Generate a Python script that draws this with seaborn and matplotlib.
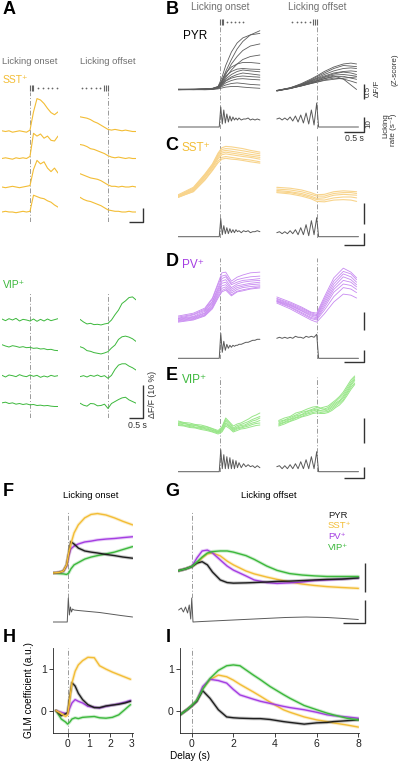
import numpy as np
import pandas as pd
import matplotlib
matplotlib.use("Agg")
import matplotlib.pyplot as plt
import seaborn as sns

sns.set_theme(style="white")
plt.rcParams['font.family'] = ['Liberation Sans', 'DejaVu Sans']

# ======================= DATA =======================
# ---- Panel A: example cells (time in s, dF/F in %) ----
TA = [-1.0, -0.875, -0.75, -0.625, -0.5, -0.375, -0.25, -0.125, 0.0,
      0.125, 0.25, 0.375, 0.5, 0.625, 0.75, 0.875, 1.0]
sst_a_on_1 = [1, 0, 1, -1, 0, 1, 0, -1, 2, 28, 47, 45, 40, 33, 27, 24, 28]
sst_a_on_2 = [0, 1, 0, -1, 1, 0, 1, 0, 3, 36, 32, 35, 29, 32, 26, 25, 32]
sst_a_on_3 = [0, -1, 0, 1, 0, -1, 0, 1, 2, 25, 38, 33, 36, 27, 22, 27, 20]
sst_a_on_4 = [0, 1, 0, 0, -1, 0, 1, 0, 1, 24, 22, 20, 19, 16, 14, 10, 7]
sst_a_off_1 = [21, 20, 19, 17, 14, 12, 9, 6, 3, 2, 3, 2, 1, 2, 1, 0, 0]
sst_a_off_2 = [20, 19, 17, 14, 13, 11, 9, 7, 4, 2, 1, 2, 1, 0, 1, 0, 0]
sst_a_off_3 = [19, 17, 15, 13, 12, 11, 9, 6, 3, 1, 1, 0, 1, 0, 0, 1, 0]
sst_a_off_4 = [21, 18, 16, 15, 13, 11, 9, 6, 3, 2, 1, 1, 0, 0, 1, 0, 0]
vip_a_on_1 = [0.3, -0.2, 0.4, 0.0, 0.5, -0.3, 0.2, 0.0, -0.3, 0.3, -0.4, 0.2, -0.3, 0.3, -0.2, 0.1, 0.4]
vip_a_on_2 = [1.0, 0.6, 0.3, 0.7, 0.5, 0.2, 0.4, 0.1, 0.2, -0.1, 0.0, -0.3, -0.2, -0.5, -0.4, -0.7, -0.8]
vip_a_on_3 = [0.2, -0.3, 0.3, 0.1, -0.2, 0.4, 0.0, -0.2, 0.3, -0.1, 0.2, -0.4, 0.0, -0.3, 0.2, -0.1, 0.1]
vip_a_on_4 = [0.5, 0.7, 0.3, 0.5, 0.1, 0.3, 0.0, 0.2, -0.1, 0.0, -0.3, -0.2, -0.4, -0.3, -0.5, -0.6, -0.6]
vip_a_off_1 = [0.2, -0.6, -1.2, -1.0, -1.4, -1.3, -1.5, -1.2, -1.0, 0.0, 1.6, 3.0, 5.0, 5.8, 6.8, 7.0, 6.1]
vip_a_off_2 = [0.4, 0.0, -0.8, -1.0, -1.4, -1.6, -1.8, -1.5, -1.1, 0.0, 0.9, 2.6, 3.4, 3.6, 3.3, 2.8, 2.0]
vip_a_off_3 = [-0.2, 0.1, -0.3, 0.2, -0.1, 0.3, -0.2, 0.1, -0.7, 0.2, 2.0, 3.3, 3.7, 3.7, 3.0, 2.5, 1.8]
vip_a_off_4 = [0.4, -0.2, -0.5, 0.3, 0.2, -0.4, -0.3, 0.1, -1.2, 0.3, 0.9, 1.5, 2.0, 2.2, 1.4, 0.9, 0.4]

# lick event times (s)
lick_a_on_bars = [0.0, 0.06, 0.12]
lick_a_on_dots = [0.3, 0.46, 0.63, 0.8, 0.96]
lick_a_off_dots = [-0.93, -0.77, -0.6, -0.44, -0.29]
lick_a_off_bars = [-0.14, -0.07, 0.0]
lick_b_on_bars = [0.0, 0.04, 0.08]
lick_b_on_dots = [0.18, 0.29, 0.39, 0.5, 0.6]
lick_b_off_dots = [-0.65, -0.53, -0.41, -0.3, -0.18]
lick_b_off_bars = [-0.1, -0.05, 0.0]

# ---- Panels B-E: per-cell traces (z-scored dF/F) ----
T_ON = [-1.1, -0.7, -0.4, -0.2, -0.05, 0.05, 0.15, 0.3, 0.45, 0.6, 0.8, 1.05]
T_OFF = [-1.05, -0.7, -0.4, -0.15, 0.0, 0.2, 0.45, 0.7, 0.9, 1.05]

pyr_on = [
    [0, 0, 0.01, 0.02, 0.08, 0.3, 0.6, 1.0, 1.35, 1.6, 1.82, 1.96],
    [0, 0.01, 0.02, 0.03, 0.1, 0.4, 0.8, 1.25, 1.55, 1.72, 1.82, 1.87],
    [0.01, 0, 0.01, 0.03, 0.08, 0.25, 0.5, 0.85, 1.1, 1.3, 1.45, 1.52],
    [0, 0, 0.01, 0.02, 0.06, 0.2, 0.4, 0.65, 0.85, 1.0, 1.1, 1.15],
    [0, 0.01, 0.02, 0.04, 0.1, 0.3, 0.55, 0.75, 0.85, 0.9, 0.9, 0.87],
    [0.01, 0.01, 0.01, 0.03, 0.08, 0.25, 0.45, 0.6, 0.68, 0.7, 0.68, 0.67],
    [0, 0, 0.02, 0.03, 0.07, 0.2, 0.35, 0.5, 0.6, 0.65, 0.62, 0.59],
    [-0.01, 0, 0.01, 0.02, 0.06, 0.18, 0.3, 0.42, 0.5, 0.55, 0.52, 0.48],
    [0, 0, 0, 0.02, 0.05, 0.15, 0.28, 0.38, 0.43, 0.45, 0.43, 0.41],
    [0, -0.01, 0, 0.01, 0.05, 0.13, 0.22, 0.3, 0.35, 0.36, 0.34, 0.32],
    [-0.01, 0, 0, 0.01, 0.04, 0.1, 0.15, 0.2, 0.22, 0.2, 0.17, 0.15],
    [0, 0, -0.01, 0, 0.02, 0.05, 0.08, 0.1, 0.1, 0.08, 0.06, 0.04],
]
pyr_off = [
    [-0.04, 0.05, 0.2, 0.35, 0.45, 0.6, 0.75, 0.85, 0.88, 0.85],
    [-0.03, 0.06, 0.18, 0.32, 0.42, 0.55, 0.7, 0.8, 0.78, 0.76],
    [-0.04, 0.05, 0.17, 0.3, 0.38, 0.5, 0.62, 0.7, 0.72, 0.7],
    [-0.05, 0.04, 0.15, 0.28, 0.36, 0.45, 0.55, 0.6, 0.62, 0.6],
    [-0.04, 0.05, 0.15, 0.26, 0.33, 0.42, 0.52, 0.58, 0.55, 0.5],
    [-0.03, 0.04, 0.14, 0.25, 0.3, 0.4, 0.48, 0.5, 0.47, 0.44],
    [-0.04, 0.03, 0.13, 0.22, 0.28, 0.36, 0.42, 0.44, 0.38, 0.34],
    [-0.05, 0.03, 0.12, 0.2, 0.25, 0.32, 0.38, 0.35, 0.28, 0.22],
    [-0.04, 0.04, 0.12, 0.2, 0.24, 0.3, 0.34, 0.38, 0.4, 0.42],
    [-0.04, 0.04, 0.13, 0.22, 0.28, 0.36, 0.45, 0.35, 0.15, 0.0],
]
sst_on = [
    [0.05, 0.22, 0.52, 0.75, 1.0, 1.12, 1.15, 1.14, 1.12, 1.1, 1.06, 1.02],
    [0.03, 0.2, 0.5, 0.73, 0.97, 1.08, 1.1, 1.09, 1.07, 1.05, 1.02, 0.98],
    [0.02, 0.18, 0.48, 0.7, 0.94, 1.04, 1.06, 1.04, 1.02, 1.0, 0.97, 0.94],
    [0.0, 0.16, 0.45, 0.68, 0.9, 1.0, 1.02, 1.0, 0.98, 0.96, 0.93, 0.9],
    [0.01, 0.15, 0.44, 0.66, 0.87, 0.96, 0.98, 0.96, 0.94, 0.92, 0.9, 0.86],
    [-0.01, 0.13, 0.4, 0.62, 0.82, 0.9, 0.92, 0.9, 0.88, 0.86, 0.84, 0.8],
    [0.0, 0.12, 0.38, 0.6, 0.78, 0.86, 0.88, 0.86, 0.85, 0.83, 0.8, 0.77],
]
sst_off = [
    [0.22, 0.2, 0.16, 0.1, 0.05, 0.06, 0.12, 0.14, 0.13, 0.12],
    [0.18, 0.16, 0.12, 0.06, 0.02, 0.02, 0.08, 0.1, 0.1, 0.08],
    [0.15, 0.12, 0.08, 0.02, -0.03, -0.02, 0.04, 0.06, 0.05, 0.04],
    [0.12, 0.1, 0.05, -0.01, -0.06, -0.07, -0.02, 0.0, 0.0, -0.02],
    [0.1, 0.07, 0.02, -0.04, -0.1, -0.11, -0.07, -0.06, -0.07, -0.1],
]
pv_on = [
    [0.11, 0.19, 0.33, 0.61, 1.03, 1.31, 1.33, 1.08, 1.19, 1.25, 1.31, 1.33],
    [0.08, 0.16, 0.3, 0.58, 0.98, 1.22, 1.25, 1.02, 1.12, 1.16, 1.2, 1.22],
    [0.05, 0.14, 0.27, 0.52, 0.9, 1.15, 1.2, 0.98, 1.05, 1.1, 1.12, 1.15],
    [0.04, 0.1, 0.24, 0.5, 0.85, 1.08, 1.12, 0.9, 1.0, 1.05, 1.08, 1.1],
    [0.02, 0.08, 0.2, 0.45, 0.8, 1.02, 1.05, 0.85, 0.95, 0.98, 1.02, 1.05],
    [0.0, 0.06, 0.18, 0.42, 0.75, 0.95, 0.98, 0.8, 0.9, 0.94, 0.98, 1.0],
    [-0.02, 0.04, 0.15, 0.38, 0.7, 0.88, 0.92, 0.75, 0.85, 0.9, 0.93, 0.95],
    [-0.04, 0.02, 0.13, 0.34, 0.65, 0.82, 0.87, 0.7, 0.8, 0.84, 0.88, 0.92],
    [-0.06, 0.0, 0.11, 0.31, 0.61, 0.78, 0.83, 0.67, 0.78, 0.81, 0.86, 0.89],
]
pv_off = [
    [0.64, 0.5, 0.36, 0.22, 0.19, 0.64, 1.17, 1.44, 1.33, 1.17],
    [0.6, 0.47, 0.33, 0.2, 0.15, 0.58, 1.08, 1.35, 1.28, 1.12],
    [0.58, 0.44, 0.3, 0.17, 0.12, 0.52, 1.0, 1.28, 1.2, 1.05],
    [0.55, 0.42, 0.27, 0.14, 0.1, 0.46, 0.92, 1.2, 1.12, 0.98],
    [0.53, 0.4, 0.25, 0.11, 0.06, 0.4, 0.85, 1.1, 1.05, 0.92],
    [0.52, 0.37, 0.21, 0.07, 0.03, 0.34, 0.77, 1.0, 0.96, 0.85],
    [0.5, 0.35, 0.18, 0.04, 0.0, 0.27, 0.65, 0.9, 0.86, 0.76],
    [0.47, 0.31, 0.14, 0.0, -0.06, 0.17, 0.5, 0.72, 0.69, 0.61],
]
T_E_ON = [-1.1, -0.95, -0.8, -0.65, -0.5, -0.35, -0.2, -0.05, 0.05, 0.15,
          0.25, 0.35, 0.45, 0.55, 0.65, 0.75, 0.85, 0.95, 1.05]
T_E_OFF = [-1.0, -0.85, -0.7, -0.55, -0.4, -0.25, -0.1, 0.0, 0.1, 0.2,
           0.3, 0.4, 0.5, 0.6, 0.7, 0.8, 0.9, 1.0]
vip_on = [
    [0.24, 0.21, 0.2, 0.17, 0.16, 0.13, 0.09, 0.05, 0.12, 0.3, 0.22, 0.14, 0.18, 0.2, 0.24, 0.28, 0.33, 0.36, 0.4],
    [0.22, 0.2, 0.17, 0.16, 0.13, 0.12, 0.08, 0.03, 0.1, 0.27, 0.2, 0.1, 0.15, 0.17, 0.2, 0.23, 0.27, 0.3, 0.33],
    [0.2, 0.19, 0.16, 0.15, 0.12, 0.1, 0.06, 0.02, 0.08, 0.24, 0.16, 0.08, 0.12, 0.15, 0.16, 0.2, 0.24, 0.26, 0.3],
    [0.19, 0.16, 0.15, 0.12, 0.11, 0.08, 0.05, 0.01, 0.06, 0.2, 0.14, 0.06, 0.1, 0.12, 0.14, 0.17, 0.2, 0.22, 0.25],
    [0.17, 0.15, 0.13, 0.11, 0.09, 0.07, 0.03, 0.0, 0.04, 0.17, 0.12, 0.04, 0.08, 0.1, 0.12, 0.14, 0.17, 0.19, 0.2],
    [0.15, 0.14, 0.11, 0.1, 0.07, 0.05, 0.02, -0.02, 0.02, 0.14, 0.09, 0.02, 0.05, 0.08, 0.09, 0.11, 0.13, 0.15, 0.16],
]
vip_off = [
    [0.25, 0.3, 0.33, 0.4, 0.43, 0.48, 0.52, 0.53, 0.5, 0.52, 0.54, 0.6, 0.66, 0.73, 0.82, 0.94, 1.06, 1.14],
    [0.23, 0.26, 0.31, 0.36, 0.41, 0.44, 0.48, 0.51, 0.49, 0.48, 0.51, 0.57, 0.63, 0.7, 0.78, 0.9, 1.02, 1.11],
    [0.2, 0.25, 0.28, 0.34, 0.37, 0.43, 0.46, 0.48, 0.45, 0.47, 0.48, 0.54, 0.6, 0.65, 0.74, 0.86, 0.98, 1.08],
    [0.18, 0.22, 0.27, 0.31, 0.36, 0.4, 0.44, 0.46, 0.44, 0.44, 0.46, 0.51, 0.57, 0.63, 0.71, 0.82, 0.95, 1.05],
    [0.16, 0.21, 0.24, 0.3, 0.33, 0.38, 0.41, 0.43, 0.41, 0.42, 0.43, 0.48, 0.54, 0.6, 0.67, 0.79, 0.91, 1.0],
    [0.14, 0.18, 0.23, 0.27, 0.32, 0.35, 0.39, 0.4, 0.39, 0.39, 0.41, 0.45, 0.51, 0.56, 0.64, 0.75, 0.87, 0.97],
]

# licking rate traces (arbitrary z-score units)
LT_ON = [-1.1, -0.02, 0.02, 0.06, 0.1, 0.14, 0.18, 0.22, 0.26, 0.3, 0.34, 0.38,
         0.42, 0.46, 0.5, 0.56, 0.62, 0.68, 0.74, 0.8, 0.86, 0.92, 0.98, 1.05]
LT_OFF = [-1.05, -0.98, -0.91, -0.84, -0.77, -0.7, -0.63, -0.56, -0.49, -0.42,
          -0.35, -0.28, -0.21, -0.14, -0.07, 0.0, 0.05, 1.1]
lick_pyr_on = [0, 0, 20, 3, 17, 4, 13, 5, 11, 6, 10, 7, 9, 7, 9, 7, 8, 8, 9, 7, 8, 7, 8, 7]
lick_sst_on = [0, 0, 18, 2, 11, 3, 9, 3, 8, 4, 7, 4, 7, 5, 6, 4, 6, 5, 6, 4, 5, 5, 6, 5]
lick_pv_on = [0, 0, 25, 6, 17, 8, 14, 10, 13, 11, 13, 12, 13, 13, 14, 14, 15, 16, 16, 17, 18, 18, 19, 19]
lick_vip_on = [0, 0, 22, 3, 17, 3, 15, 3, 14, 3, 12, 3, 11, 4, 9, 4, 8, 5, 7, 5, 6, 4, 6, 4]
lick_pyr_off = [8, 9, 7, 9, 7, 10, 6, 11, 5, 12, 4, 14, 3, 17, 2, 24, 0, 0]
lick_sst_off = [4, 5, 3, 5, 3, 6, 3, 7, 2, 9, 2, 12, 1, 16, 2, 19, 0, 0]
lick_pv_off = [20, 21, 20, 21, 20, 21, 20, 22, 21, 21, 20, 22, 21, 22, 21, 24, 0, 0]
lick_vip_off = [5, 6, 3, 6, 3, 7, 3, 8, 3, 10, 3, 12, 3, 15, 3, 20, 0, 0]

# ---- Panels F, G: population averages ----
T_F = [-0.7, -0.4, -0.2, -0.05, 0.05, 0.15, 0.3, 0.5, 0.8, 1.1, 1.4, 1.8, 2.2, 2.6, 3.05]
f_pyr = [0, 0.02, 0.07, 0.28, 0.69, 1.08, 1.0, 0.86, 0.76, 0.72, 0.69, 0.64, 0.6, 0.55, 0.51]
f_sst = [0, 0.02, 0.07, 0.28, 0.69, 1.0, 1.38, 1.66, 1.9, 2.02, 2.05, 2.0, 1.9, 1.78, 1.66]
f_pv = [0, 0.02, 0.07, 0.24, 0.59, 0.83, 0.93, 1.0, 1.07, 1.1, 1.14, 1.17, 1.19, 1.22, 1.25]
f_vip = [0, -0.02, -0.03, -0.05, 0, 0.14, 0.28, 0.36, 0.48, 0.55, 0.6, 0.66, 0.72, 0.81, 0.91]
T_FL = [-0.7, -0.02, 0.03, 0.08, 0.13, 0.18, 0.23, 0.3, 0.5, 1.0, 1.5, 2.0, 2.5, 3.05]
f_lick = [0, 0, 24, 7, 15, 10, 13, 12, 11.5, 10.5, 9.5, 8, 6.5, 5]

T_G = [-0.63, -0.3, 0.0, 0.25, 0.5, 0.75, 1.0, 1.37, 1.7, 2.0, 2.6, 3.0, 3.6, 4.1,
       4.7, 5.3, 5.9, 6.5, 7.2, 8.0]
g_pyr = [0.08, 0.14, 0.22, 0.34, 0.39, 0.28, 0.03, -0.24, -0.33, -0.35, -0.34, -0.33,
         -0.31, -0.29, -0.28, -0.26, -0.24, -0.22, -0.21, -0.17]
g_sst = [0.08, 0.14, 0.22, 0.34, 0.52, 0.66, 0.69, 0.59, 0.41, 0.28, 0.07, -0.03,
         -0.14, -0.22, -0.31, -0.38, -0.43, -0.47, -0.5, -0.53]
g_pv = [0.08, 0.14, 0.22, 0.52, 0.76, 0.79, 0.69, 0.45, 0.24, 0.1, -0.1, -0.24,
        -0.33, -0.36, -0.34, -0.31, -0.26, -0.24, -0.21, -0.17]
g_vip = [0.08, 0.14, 0.22, 0.38, 0.55, 0.69, 0.74, 0.76, 0.76, 0.72, 0.6, 0.47,
         0.24, 0.09, -0.02, -0.07, -0.1, -0.12, -0.12, -0.12]
T_GL = [-0.63, -0.5, -0.4, -0.3, -0.2, -0.12, -0.05, 0.0, 0.06, 0.5, 1.5, 2.5,
        3.5, 4.5, 5.5, 6.5, 7.3, 8.0]
g_lick = [12, 14, 10, 15, 9, 17, 3, 24, 0, 0.5, 1.5, 2.5, 3.5, 4.5, 5, 4.5, 3.5, 2.5]

# ---- Panels H, I: GLM coefficients ----
T_H = [-0.55, -0.3, -0.1, 0.0, 0.1, 0.2, 0.35, 0.5, 0.7, 0.95, 1.25, 1.5, 1.8,
       2.1, 2.4, 2.7, 2.95]
h_pyr = [0.02, -0.1, -0.06, -0.02, 0.35, 0.68, 0.6, 0.43, 0.28, 0.16, 0.09, 0.09,
         0.13, 0.15, 0.17, 0.2, 0.24]
h_sst = [0.02, -0.05, -0.12, -0.08, 0.3, 0.67, 0.95, 1.1, 1.2, 1.28, 1.27, 1.08,
         1.0, 0.93, 0.87, 0.81, 0.76]
h_pv = [0.02, -0.02, -0.05, -0.06, 0.08, 0.2, 0.28, 0.24, 0.2, 0.12, 0.1, 0.08,
        0.12, 0.15, 0.18, 0.22, 0.26]
h_vip = [0.02, -0.18, -0.25, -0.3, -0.25, -0.18, -0.15, -0.17, -0.14, -0.13, -0.12,
         -0.15, -0.16, -0.14, -0.08, 0.05, 0.16]
T_I = [-0.56, -0.2, 0.0, 0.24, 0.53, 0.88, 1.28, 1.68, 2.0, 2.32, 2.96, 3.3, 3.76,
       4.4, 4.72, 5.4, 6.0, 6.5, 6.8, 7.44, 8.0]
i_pyr = [-0.08, 0.05, 0.13, 0.24, 0.49, 0.31, 0.04, -0.13, -0.15, -0.16, -0.17, -0.17,
         -0.19, -0.24, -0.26, -0.3, -0.27, -0.26, -0.24, -0.22, -0.2]
i_sst = [-0.08, 0.05, 0.13, 0.24, 0.55, 0.75, 0.86, 0.82, 0.74, 0.64, 0.46, 0.36,
         0.22, 0.04, -0.02, -0.13, -0.2, -0.24, -0.27, -0.32, -0.37]
i_pv = [-0.08, 0.05, 0.13, 0.24, 0.59, 0.76, 0.73, 0.67, 0.52, 0.39, 0.29, 0.24,
        0.19, 0.12, 0.09, 0.04, -0.02, -0.08, -0.1, -0.13, -0.16]
i_vip = [-0.08, 0.05, 0.14, 0.26, 0.52, 0.78, 0.97, 1.08, 1.1, 1.08, 0.86, 0.75,
         0.59, 0.4, 0.31, 0.14, 0.04, -0.04, -0.08, -0.16, -0.2]

GROUPS = ['PYR', 'SST\u207a', 'PV\u207a', 'VIP\u207a']

# ======================= STYLE =======================
C_PYR = '#1e1e1e'
C_PYR_B = '#5c5c5c'
C_SST = '#f3bd35'
C_SST_L = '#f8d48c'
C_PV = '#a43de2'
C_PV_L = '#c88af1'
C_VIP = '#3cb83c'
C_VIP_L = '#98e688'
C_LICK = '#5a5a5a'
C_TXT = '#707070'
C_BAR = '#333333'
DASH = (0, (5, 2, 1, 2))

W, H = 400, 763
fig = plt.figure(figsize=(W / 100, H / 100), dpi=100)

over = fig.add_axes([0, 0, 1, 1])
over.set_xlim(0, W)
over.set_ylim(H, 0)
over.set_axis_off()
over.patch.set_alpha(0)


def box(x0, y0, x1, y1):
    ax = fig.add_axes([x0 / W, 1 - y1 / H, (x1 - x0) / W, (y1 - y0) / H])
    ax.set_axis_off()
    ax.patch.set_alpha(0)
    return ax


def draw(ax, t, arrs, color, lw=0.6, alpha=1.0):
    n = len(arrs)
    df = pd.DataFrame({
        't': np.tile(np.asarray(t, float), n),
        'v': np.concatenate([np.asarray(a, float) for a in arrs]),
        'u': np.repeat(np.arange(n), len(t)),
    })
    sns.lineplot(data=df, x='t', y='v', units='u', estimator=None, color=color,
                 lw=lw, alpha=alpha, ax=ax, legend=False, sort=False)
    ax.set_xlabel('')
    ax.set_ylabel('')


def vline(x0, x1, y0, y1, xlim):
    ax = box(x0, y0, x1, y1)
    ax.set_xlim(*xlim)
    ax.set_ylim(0, 1)
    ax.axvline(0, color='#9a9a9a', lw=0.7, ls=DASH)
    return ax


def licks(x0, x1, yc, xlim, bars, dots):
    ax = box(x0, yc - 4, x1, yc + 4)
    sns.scatterplot(x=bars, y=[0] * len(bars), marker='|', s=14, color='#666666',
                    linewidth=0.8, ax=ax, legend=False)
    sns.scatterplot(x=dots, y=[0] * len(dots), marker='o', s=1.6, color='#666666',
                    linewidth=0, ax=ax, legend=False)
    ax.set_xlim(*xlim)
    ax.set_ylim(-1, 1)
    ax.set_axis_off()


def sbar(pts, lw=1.0):
    xs, ys = zip(*pts)
    over.plot(xs, ys, color=C_BAR, lw=lw, solid_capstyle='butt')


def txt(x, y, s, size=6.5, color=C_TXT, ha='center', va='center', **kw):
    over.text(x, y, s, fontsize=size, color=color, ha=ha, va=va, **kw)


# ======================= PANEL A =======================
A_ON, A_OFF = (2, 58), (80, 136)
SST_ROWS = [131.5, 158.5, 187, 212]
VIP_ROWS = [320, 348, 376, 404.5]
sst_a_on = [sst_a_on_1, sst_a_on_2, sst_a_on_3, sst_a_on_4]
sst_a_off = [sst_a_off_1, sst_a_off_2, sst_a_off_3, sst_a_off_4]
vip_a_on = [vip_a_on_1, vip_a_on_2, vip_a_on_3, vip_a_on_4]
vip_a_off = [vip_a_off_1, vip_a_off_2, vip_a_off_3, vip_a_off_4]

for (x0, x1), sst_set, vip_set in [(A_ON, sst_a_on, vip_a_on), (A_OFF, sst_a_off, vip_a_off)]:
    vline(x0, x1, 92, 222, (-1, 1))
    vline(x0, x1, 293, 418, (-1, 1))
    for base, arr in zip(SST_ROWS, sst_set):
        ax = box(x0, base - 40, x1, base + 6)
        draw(ax, TA, [arr], C_SST, lw=0.8)
        ax.set_xlim(-1, 1)
        ax.set_ylim(-6 / 0.7, 40 / 0.7)
    for base, arr in zip(VIP_ROWS, vip_set):
        ax = box(x0, base - 28, x1, base + 10)
        draw(ax, TA, [arr], C_VIP, lw=0.7)
        ax.set_xlim(-1, 1)
        ax.set_ylim(-10 / 3.3, 28 / 3.3)

licks(*A_ON, 88, (-1, 1), lick_a_on_bars, lick_a_on_dots)
licks(*A_OFF, 88, (-1, 1), lick_a_off_bars, lick_a_off_dots)

# ======================= PANELS B-E =======================
COL_ON, COL_OFF = (178.2, 261.8), (274.9, 358.5)
XL = (-1.1, 1.1)
rows = [
    dict(top=25, bot=100, base=89.5, ppu=30, lb=127, dash=(25, 129), c=C_PYR_B, lw=0.6,
         ton=T_ON, toff=T_OFF, on=pyr_on, off=pyr_off, lon=lick_pyr_on, loff=lick_pyr_off),
    dict(top=135, bot=215, base=197, ppu=44, lb=236.7, dash=(135, 238), c=C_SST_L, lw=0.8,
         ton=T_ON, toff=T_OFF, on=sst_on, off=sst_off, lon=lick_sst_on, loff=lick_sst_off),
    dict(top=255, bot=340, base=320, ppu=36, lb=358.3, dash=(258, 359), c=C_PV_L, lw=0.6,
         ton=T_ON, toff=T_OFF, on=pv_on, off=pv_off, lon=lick_pv_on, loff=lick_pv_off),
    dict(top=372, bot=445, base=433, ppu=50, lb=471.7, dash=(377, 472), c=C_VIP_L, lw=0.7,
         ton=T_E_ON, toff=T_E_OFF, on=vip_on, off=vip_off, lon=lick_vip_on, loff=lick_vip_off),
]
for r in rows:
    for (x0, x1), t, arrs, lt, lk in [(COL_ON, r['ton'], r['on'], LT_ON, r['lon']),
                                      (COL_OFF, r['toff'], r['off'], LT_OFF, r['loff'])]:
        vline(x0, x1, r['dash'][0], r['dash'][1], XL)
        ax = box(x0, r['top'], x1, r['bot'])
        draw(ax, t, arrs, r['c'], lw=r['lw'])
        ax.set_xlim(*XL)
        ax.set_ylim((r['base'] - r['bot']) / r['ppu'], (r['base'] - r['top']) / r['ppu'])
        lax = box(x0, r['lb'] - 32, x1, r['lb'] + 3)
        draw(lax, lt, [lk], C_LICK, lw=0.7)
        lax.set_xlim(*XL)
        lax.set_ylim(-3, 32)

licks(*COL_ON, 22, XL, lick_b_on_bars, lick_b_on_dots)
licks(*COL_OFF, 22, XL, lick_b_off_bars, lick_b_off_dots)

# ======================= PANELS F, G =======================
F_X, G_X = (53, 133), (178, 360)
F_XL, G_XL = (-0.69, 3.07), (-0.66, 8.08)


def pop(x0, x1, xl, t, data_colors, lt, lk):
    vline(x0, x1, 512, 598, xl)
    ax = box(x0, 500, x1, 592)
    for arr, c in data_colors:
        draw(ax, t, [arr], c, lw=2.4, alpha=0.25)
        draw(ax, t, [arr], c, lw=1.0)
    ax.set_xlim(*xl)
    ax.set_ylim((573 - 592) / 29, (573 - 500) / 29)
    lax = box(x0, 589, x1, 625)
    draw(lax, lt, [lk], C_LICK, lw=0.7)
    lax.set_xlim(*xl)
    lax.set_ylim(-3, 33)


pop(*F_X, F_XL, T_F, [(f_vip, C_VIP), (f_pv, C_PV), (f_pyr, C_PYR), (f_sst, C_SST)], T_FL, f_lick)
pop(*G_X, G_XL, T_G, [(g_sst, C_SST), (g_pv, C_PV), (g_pyr, C_PYR), (g_vip, C_VIP)], T_GL, g_lick)

# ======================= PANELS H, I =======================
def glm(x0, x1, xl, t, data_colors, xticks):
    ax = box(x0, 648, x1, 733)
    ax.set_axis_on()
    ax.axvline(0, color='#9a9a9a', lw=0.7, ls=DASH)
    for arr, c in data_colors:
        draw(ax, t, [arr], c, lw=2.4, alpha=0.25)
        draw(ax, t, [arr], c, lw=1.0)
    ax.set_xlim(*xl)
    ax.set_ylim(-0.51, 1.5)
    ax.set_xticks(xticks)
    ax.set_yticks([0, 1])
    for s in ['top', 'right']:
        ax.spines[s].set_visible(False)
    for s in ['left', 'bottom']:
        ax.spines[s].set_visible(True)
        ax.spines[s].set_color('#222222')
        ax.spines[s].set_linewidth(0.6)
    ax.tick_params(axis='both', which='both', direction='out', length=3, width=0.6,
                   labelsize=7.5, pad=1.5, colors='#222222', bottom=True, left=True)
    ax.grid(False)
    return ax


glm(*F_X, F_XL, T_H, [(h_vip, C_VIP), (h_pv, C_PV), (h_pyr, C_PYR), (h_sst, C_SST)], [0, 1, 2, 3])
glm(180, 359, (-0.56, 8.03), T_I, [(i_sst, C_SST), (i_pv, C_PV), (i_pyr, C_PYR), (i_vip, C_VIP)],
    [0, 2, 4, 6, 8])

# ======================= TEXT =======================
for s, x, y in [('A', 9, 9), ('B', 172, 9), ('C', 172, 146), ('D', 172, 261), ('E', 172, 375),
                ('F', 8, 492), ('G', 172, 492), ('H', 9, 637), ('I', 168, 637)]:
    txt(x, y, s, size=13, color='black', fontweight='bold')

txt(30, 62, 'Licking onset', size=6.8)
txt(108, 62, 'Licking offset', size=6.8)
txt(3, 80, 'SST\u207a', size=7.5, color=C_SST, ha='left')
txt(3, 285, 'VIP\u207a', size=7.5, color=C_VIP, ha='left')
txt(220, 7, 'Licking onset', size=7.2)
txt(317, 7, 'Licking offset', size=7.2)
txt(183, 36, 'PYR', size=8.5, color='black', ha='left')
txt(182, 148, 'SST\u207a', size=8.5, color=C_SST, ha='left')
txt(182, 265, 'PV\u207a', size=8.5, color=C_PV, ha='left')
txt(182, 380, 'VIP\u207a', size=8.5, color=C_VIP, ha='left')
txt(91, 495, 'Licking onset', size=6.8, color='black')
txt(269, 495, 'Licking offset', size=6.8, color='black')
for i, (g, c) in enumerate(zip(GROUPS, [C_PYR, C_SST, C_PV, C_VIP])):
    txt(328, 515 + i * 10.8, g, size=6.8, color=c, ha='left')
txt(29, 690, 'GLM coefficient (a.u.)', size=7.2, color='black', rotation=90)
txt(190, 756, 'Delay (s)', size=7.2, color='black')

# scale bars
sbar([(143, 208), (143, 222), (129, 222)])
sbar([(143, 385), (143, 418), (129, 418)])
txt(152.5, 394, '\u0394F/F (10 %)', size=6.3, color=C_BAR, rotation=90)
txt(137, 426, '0.5 s', size=6.3, color=C_BAR)
sbar([(364, 84), (364, 99)])
sbar([(364, 117), (364, 132), (344, 132)])
txt(368.5, 91, '0.5', size=5.8, color=C_BAR, rotation=90)
txt(377.5, 88, '\u0394F/F', size=5.8, color=C_BAR, rotation=90)
txt(395, 70, '(Z-score)', size=5.8, color=C_BAR, rotation=90)
txt(368.5, 124, '10', size=5.8, color=C_BAR, rotation=90)
txt(386, 126, 'Licking', size=5.8, color=C_BAR, rotation=90)
txt(393.5, 130, 'rate (s\u207b\u00b9)', size=5.8, color=C_BAR, rotation=90)
txt(354, 138.5, '0.5 s', size=6.3, color=C_BAR)
sbar([(364, 203), (364, 224)])
sbar([(364, 233), (364, 245), (344, 245)])
sbar([(364, 312), (364, 330)])
sbar([(364, 350), (364, 362), (344, 362)])
sbar([(364, 418), (364, 443)])
sbar([(364, 467), (364, 478), (344, 478)])
sbar([(365, 563), (365, 592)])
sbar([(365, 600), (365, 623), (343, 623)])

fig.savefig('out.png', dpi=100)
